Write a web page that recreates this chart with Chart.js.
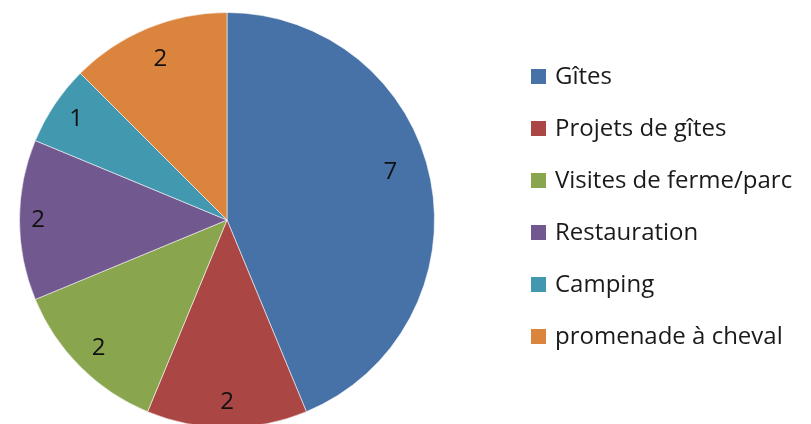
<!DOCTYPE html>
<html>
<head>
<meta charset="utf-8">
<script src="https://cdn.jsdelivr.net/npm/chart.js@4"></script>
<style>
  html, body { margin: 0; padding: 0; background: #fff; overflow: hidden; }
  #wrap { position: relative; width: 811px; height: 424px; overflow: hidden; }
  #box { position: absolute; left: 0; top: 0; width: 811px; height: 440px; }
  #legend { position: absolute; left: 531px; top: 0; width: 280px; margin: 0; padding: 0; list-style: none;
            font-family: "Open Sans", sans-serif; font-size: 24px; color: #1a1a1a; }
  #legend li { position: absolute; left: 0; white-space: nowrap; height: 34px; line-height: 34px; }
  #legend span { display: inline-block; width: 15px; height: 15px; margin-right: 9px; vertical-align: 0px; }
</style>
</head>
<body>
<div id="wrap">
  <div id="box"><canvas id="pie"></canvas></div>
  <ul id="legend"></ul>
</div>
<script>
const categories = ['Gîtes', 'Projets de gîtes', 'Visites de ferme/parc', 'Restauration', 'Camping', 'promenade à cheval'];
const counts = [7, 2, 2, 2, 1, 2];
const colors = ['#4672a8', '#aa4643', '#89a54e', '#71588f', '#4198af', '#db843d'];

// value label placement: share of the radius, and a small turn (degrees) off the slice middle
const labelRadius = [0.82, 0.88, 0.875, 0.91, 0.875, 0.84];
const labelTurn = [-5, 0, 0, 0, 0, 0];

const valueLabels = {
  id: 'valueLabels',
  afterDatasetsDraw(chart) {
    const ctx = chart.ctx;
    const arcs = chart.getDatasetMeta(0).data;
    ctx.save();
    ctx.font = '24px "Open Sans", sans-serif';
    ctx.fillStyle = '#111';
    ctx.textAlign = 'center';
    ctx.textBaseline = 'middle';
    arcs.forEach((arc, i) => {
      const p = arc.getProps(['x', 'y', 'startAngle', 'endAngle', 'outerRadius'], true);
      const mid = (p.startAngle + p.endAngle) / 2 + labelTurn[i] * Math.PI / 180;
      const r = p.outerRadius * labelRadius[i];
      ctx.fillText(String(counts[i]), p.x + Math.cos(mid) * r, p.y + Math.sin(mid) * r);
    });
    ctx.restore();
  }
};

new Chart(document.getElementById('pie'), {
  type: 'pie',
  data: {
    labels: categories,
    datasets: [{
      data: counts,
      backgroundColor: colors,
      borderColor: 'rgba(255,255,255,0.55)',
      borderWidth: 1
    }]
  },
  options: {
    responsive: true,
    maintainAspectRatio: false,
    animation: false,
    layout: { padding: { left: 19, right: 376, top: 12, bottom: 12 } },
    plugins: {
      legend: { display: false },
      tooltip: { enabled: false }
    }
  },
  plugins: [valueLabels]
});

// legend on the right
const legend = document.getElementById('legend');
categories.forEach((name, i) => {
  const li = document.createElement('li');
  li.style.top = (75 + i * 52 - 17) + 'px';
  const sw = document.createElement('span');
  sw.style.background = colors[i];
  li.appendChild(sw);
  li.appendChild(document.createTextNode(name));
  legend.appendChild(li);
});
</script>
</body>
</html>
